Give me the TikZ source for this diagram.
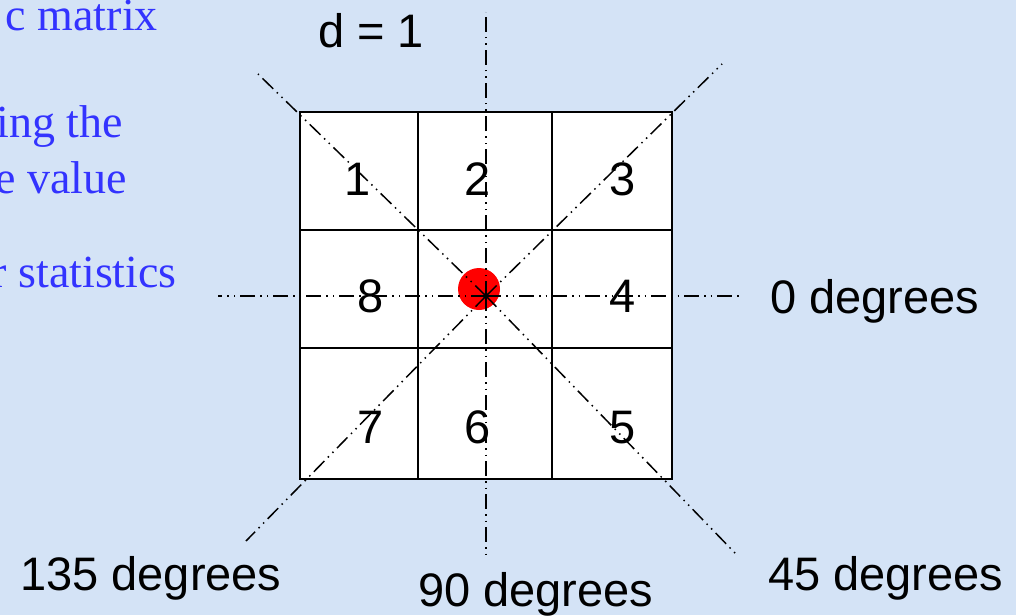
\documentclass[tikz,border=0pt]{standalone}
\usepackage{fontspec}
\setmainfont{Liberation Sans}
\newfontfamily\slidefont{Liberation Serif}
\usetikzlibrary{positioning}

\definecolor{slidebg}{RGB}{212,227,246}
\definecolor{slideblue}{RGB}{51,51,255}
\tikzset{
  dirline/.style={line width=1.5pt, dash pattern=on 15pt off 5pt on 1.5pt off 5pt on 1.5pt off 5pt},
  gridline/.style={line width=2pt},
  cellnum/.style={anchor=base, inner sep=0pt, font=\fontsize{47}{47}\selectfont},
  biglabel/.style={anchor=base west, inner sep=0pt, font=\fontsize{47}{47}\selectfont},
  slidetext/.style={anchor=base east, inner sep=0pt, text=slideblue, font=\slidefont\fontsize{46}{46}\selectfont}
}

\begin{document}
\begin{tikzpicture}[x=1pt,y=-1pt]
    \fill[slidebg] (0,0) rectangle (1016,615);
    \useasboundingbox (0,0) rectangle (1016,615);
    \clip (0,0) rectangle (1016,615);

    % text of the slide, cut at the left edge
    \node[slidetext] (txtA) at (158,31) {c matrix};
    \node[slidetext] (txtB) at (123,137) {ing the};
    \node[slidetext] (txtC) at (127,193) {e value};
    \node[slidetext] (txtD) at (177,287) {r statistics};

    % 3x3 neighbourhood
    \filldraw[fill=white, gridline] (300,112) rectangle (672,479);
    \draw[gridline] (418,112) -- (418,479) (552,112) -- (552,479)
                    (300,230) -- (672,230) (300,348) -- (672,348);

    % neighbour numbers
    \node[cellnum] (n1) at (358,195) {1};
    \node[cellnum] (n2) at (478,195) {2};
    \node[cellnum] (n3) at (623,195) {3};
    \node[cellnum] (n8) at (371,312) {8};
    \node[cellnum] (n4) at (623,312) {4};
    \node[cellnum] (n7) at (371,443) {7};
    \node[cellnum] (n6) at (478,443) {6};
    \node[cellnum] (n5) at (623,443) {5};

    % centre pixel
    \fill[red] (479,289) circle (21pt);

    % directions
    \coordinate (c) at (486,296);
    \coordinate (w) at (218,296);
    \coordinate (e) at (740,296);
    \coordinate (n) at (486,12);
    \coordinate (s) at (486,558);
    \coordinate (nw) at (258,74);
    \coordinate (se) at (735,553);
    \coordinate (ne) at (722,64);
    \coordinate (sw) at (246,541);
    \foreach \dir in {w,e,n,s,nw,ne,sw,se} {
        \draw[dirline] (c) -- (\dir);
    }

    % labels
    \node[biglabel] (dist) at (318,48) {d = 1};
    \node[biglabel] (deg0) at (770,313) {0 degrees};
    \node[biglabel] (deg135) at (20,590) {135 degrees};
    \node[biglabel] (deg90) at (418,606) {90 degrees};
    \node[biglabel] (deg45) at (768,590) {45 degrees};
\end{tikzpicture}
\end{document}
